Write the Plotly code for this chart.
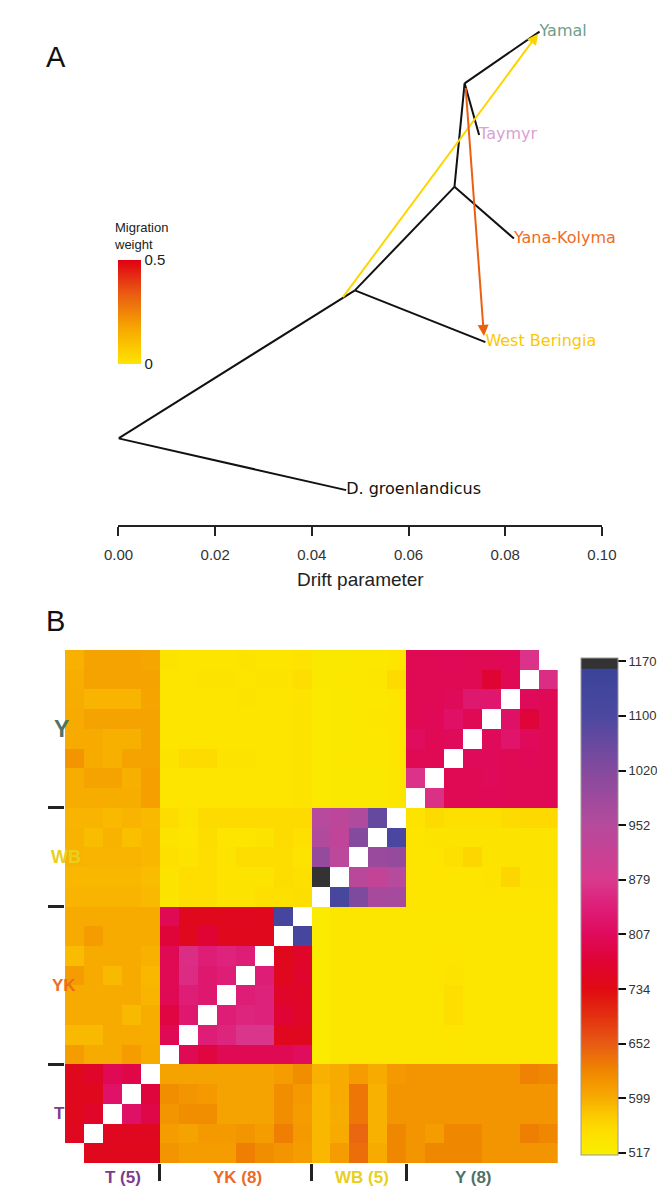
import numpy as np
import plotly.graph_objects as go
from plotly.colors import sample_colorscale

W, H = 665, 1193

# ---------------- Panel A data (TreeMix tree) ----------------
node_names = ["root", "n1", "n2", "n3", "Yamal", "Taymyr", "Yana-Kolyma",
              "West Beringia", "D. groenlandicus"]
node_drift = [0.0, 0.0489, 0.0695, 0.0716, 0.0871, 0.0746, 0.0818, 0.0759, 0.0471]
node_pos = [0.84, 2.27, 3.27, 4.27, 4.77, 3.77, 2.77, 1.77, 0.34]
edges = [("root", "n1"), ("root", "D. groenlandicus"), ("n1", "n2"),
         ("n1", "West Beringia"), ("n2", "n3"), ("n2", "Yana-Kolyma"),
         ("n3", "Yamal"), ("n3", "Taymyr")]
leaf_names = ["Yamal", "Taymyr", "Yana-Kolyma", "West Beringia", "D. groenlandicus"]
leaf_colors = ["#6E9E8C", "#D9A3CF", "#F26B1D", "#FBC800", "#111111"]

mig_from_drift = [0.0462, 0.0718]
mig_from_pos = [2.19, 4.24]
mig_to_drift = [0.0868, 0.0756]
mig_to_pos = [4.75, 1.83]
mig_weight = [0.04, 0.33]

drift_ticks = [0.00, 0.02, 0.04, 0.06, 0.08, 0.10]
drift_ticktext = ["0.00", "0.02", "0.04", "0.06", "0.08", "0.10"]

# ---------------- Panel B data (coancestry heatmap) ----------------
group_names = ["T", "YK", "WB", "Y"]
group_sizes = [5, 8, 5, 8]
group_colors = ["#7E3C8E", "#EE6A22", "#E8D01C", "#4E7268"]
cb_values = [517, 599, 652, 734, 807, 879, 952, 1020, 1100, 1170]

N = None
# rows listed top to bottom (Y block rows first), columns T | YK | WB | Y
rows_Y = [
    [595, 605, 605, 605, 603, 540, 535, 535, 535, 540, 535, 535, 540, 528, 528, 530, 530, 535, 800, 800, 802, 800, 800, 802, 870, N],
    [597, 605, 605, 605, 605, 535, 535, 538, 538, 535, 538, 540, 548, 528, 530, 530, 532, 555, 800, 800, 800, 800, 770, 800, N, 862],
    [598, 592, 592, 592, 604, 535, 535, 535, 535, 537, 535, 535, 540, 525, 528, 530, 530, 535, 800, 800, 805, 832, 830, N, 805, 800],
    [600, 605, 605, 605, 605, 535, 535, 535, 535, 535, 535, 535, 538, 525, 528, 530, 532, 533, 800, 802, 818, 800, N, 820, 775, 800],
    [600, 600, 596, 596, 605, 535, 535, 535, 535, 535, 535, 535, 538, 525, 528, 530, 530, 535, 810, 800, 805, N, 805, 825, 805, 800],
    [615, 600, 596, 605, 605, 540, 555, 555, 540, 538, 535, 535, 538, 527, 530, 530, 530, 535, 800, 800, N, 805, 805, 800, 802, 800],
    [598, 605, 605, 596, 608, 535, 535, 535, 535, 535, 535, 535, 538, 525, 528, 528, 528, 532, 870, N, 800, 800, 805, 800, 800, 800],
    [598, 598, 598, 598, 608, 535, 535, 535, 535, 535, 535, 535, 538, 525, 528, 528, 528, 532, N, 868, 800, 800, 802, 800, 800, 800],
]
rows_WB = [
    [592, 592, 588, 592, 588, 550, 540, 555, 555, 555, 555, 555, 555, 950, 940, 960, 1065, N, 540, 555, 545, 545, 545, 555, 557, 557],
    [594, 585, 594, 582, 590, 540, 535, 550, 535, 535, 540, 555, 545, 962, 930, 1020, N, 1110, 535, 538, 540, 540, 540, 540, 540, 540],
    [594, 592, 592, 592, 590, 545, 540, 548, 540, 552, 552, 552, 540, 995, 942, N, 990, 995, 535, 535, 545, 560, 540, 540, 540, 540],
    [590, 590, 590, 590, 585, 540, 548, 548, 540, 540, 540, 552, 545, 1170, N, 945, 925, 952, 535, 535, 535, 535, 540, 560, 540, 540],
    [592, 592, 592, 592, 588, 540, 548, 548, 540, 540, 545, 545, 548, N, 1118, 1030, 972, 975, 535, 535, 535, 535, 535, 535, 535, 535],
]
rows_YK = [
    [600, 600, 600, 600, 600, 800, 745, 745, 745, 748, 745, 1120, N, 522, 532, 532, 532, 532, 532, 532, 532, 532, 532, 532, 532, 532],
    [600, 610, 600, 600, 600, 775, 745, 770, 745, 745, 745, N, 1120, 522, 532, 532, 532, 532, 532, 532, 532, 532, 532, 532, 532, 532],
    [585, 600, 600, 600, 595, 800, 862, 842, 850, 842, N, 745, 760, 522, 532, 532, 532, 532, 532, 532, 535, 532, 532, 532, 532, 532],
    [610, 600, 588, 600, 590, 800, 860, 832, 842, N, 842, 748, 762, 522, 532, 532, 532, 532, 532, 532, 540, 532, 532, 532, 532, 532],
    [600, 600, 600, 600, 592, 800, 842, 832, N, 842, 848, 760, 758, 522, 532, 532, 532, 532, 532, 532, 548, 532, 532, 532, 532, 532],
    [600, 600, 600, 588, 598, 782, 832, N, 842, 852, 848, 770, 760, 522, 532, 532, 532, 532, 532, 532, 548, 532, 532, 532, 532, 532],
    [588, 588, 600, 600, 598, 800, N, 842, 852, 872, 872, 748, 750, 522, 532, 532, 532, 532, 532, 532, 535, 532, 532, 532, 532, 532],
    [610, 600, 600, 610, 600, N, 800, 782, 800, 800, 800, 800, 810, 522, 532, 532, 532, 532, 532, 532, 532, 532, 532, 532, 532, 532],
]
rows_T = [
    [745, 760, 800, 790, N, 605, 605, 605, 605, 605, 605, 610, 620, 595, 600, 610, 600, 612, 615, 615, 615, 615, 615, 615, 628, 625],
    [745, 745, 822, N, 780, 620, 615, 612, 605, 605, 605, 620, 612, 590, 600, 635, 595, 615, 615, 615, 615, 615, 615, 615, 615, 615],
    [745, 760, N, 820, 790, 615, 620, 620, 605, 605, 605, 620, 610, 590, 598, 635, 595, 615, 615, 615, 615, 615, 615, 615, 615, 615],
    [750, N, 750, 750, 750, 610, 605, 612, 612, 615, 610, 630, 612, 590, 600, 645, 595, 625, 615, 610, 625, 625, 615, 615, 630, 625],
    [N, 745, 745, 745, 745, 615, 610, 610, 610, 630, 620, 615, 610, 590, 610, 640, 600, 625, 615, 625, 625, 625, 615, 615, 615, 615],
]

# ---------------- helpers ----------------
def px(x):
    return x / W


def py(y):
    return 1 - y / H


FONT = "Liberation Sans, Arial, sans-serif"

fig = go.Figure()

# Tree edges
idx = {n: i for i, n in enumerate(node_names)}
ex, ey = [], []
for a, b in edges:
    ex += [node_drift[idx[a]], node_drift[idx[b]], None]
    ey += [node_pos[idx[a]], node_pos[idx[b]], None]
fig.add_trace(go.Scatter(x=ex, y=ey, mode="lines", line=dict(color="#111111", width=2),
                         hoverinfo="skip", showlegend=False, xaxis="x", yaxis="y"))

# Leaf labels
fig.add_trace(go.Scatter(
    x=[node_drift[idx[n]] for n in leaf_names],
    y=[node_pos[idx[n]] for n in leaf_names],
    mode="text", text=leaf_names, textposition="middle right",
    textfont=dict(family="DejaVu Sans, Verdana, sans-serif", size=16, color=leaf_colors),
    cliponaxis=False, hoverinfo="skip", showlegend=False, xaxis="x", yaxis="y"))

# Migration weight scale
mig_scale = [[0.0, "#FFE400"], [0.35, "#F6A600"], [0.68, "#EA5A12"], [1.0, "#E00012"]]
fig.add_trace(go.Scatter(
    x=[0.05, 0.05], y=[-50, -50], mode="markers",
    marker=dict(color=mig_weight, colorscale=mig_scale, cmin=0, cmax=0.5, size=1,
                showscale=True,
                colorbar=dict(x=px(100), xanchor="left", xpad=0, y=py(304), yanchor="middle",
                              ypad=0, len=104, lenmode="pixels", thickness=23,
                              thicknessmode="pixels", outlinewidth=0, ticks="",
                              tickvals=[0, 0.5], ticktext=["0", "0.5"],
                              tickfont=dict(family=FONT, size=15, color="#222"))),
    hoverinfo="skip", showlegend=False, xaxis="x", yaxis="y"))

annotations = []
mig_cols = sample_colorscale(mig_scale, [w / 0.5 for w in mig_weight])
for fx, fy, tx, ty, c in zip(mig_from_drift, mig_from_pos, mig_to_drift, mig_to_pos, mig_cols):
    annotations.append(dict(x=tx, y=ty, xref="x", yref="y", ax=fx, ay=fy, axref="x", ayref="y",
                            showarrow=True, arrowhead=2, arrowsize=1.1, arrowwidth=2,
                            arrowcolor=c, text="", standoff=0, startstandoff=0))

annotations.append(dict(x=px(93), y=py(228), xref="paper", yref="paper", xanchor="left",
                        yanchor="middle", align="left", showarrow=False,
                        text="Migration<br>weight",
                        font=dict(family=FONT, size=13, color="#222")))
annotations.append(dict(x=px(353), y=py(571), xref="paper", yref="paper", showarrow=False,
                        text="Drift parameter", font=dict(family=FONT, size=19, color="#222")))
annotations.append(dict(x=px(22), y=py(31), xref="paper", yref="paper", showarrow=False,
                        text="A", font=dict(family=FONT, size=29, color="#111")))
annotations.append(dict(x=px(22), y=py(613), xref="paper", yref="paper", showarrow=False,
                        text="B", font=dict(family=FONT, size=29, color="#111")))

# ---------------- Heatmap ----------------
rows = rows_Y + rows_WB + rows_YK + rows_T
z = np.array([[np.nan if v is None else v for v in r] for r in rows], dtype=float)
n = z.shape[0]
z_idx = np.where(np.isnan(z), np.nan, np.interp(np.nan_to_num(z, nan=517), cb_values, np.arange(len(cb_values))))
zmin, zmax = -0.04, 9.06
anchors = [(-0.04, "#F8EE00"), (0.0, "#F9ED00"), (0.25, "#FDE400"), (0.5, "#FDD800"),
           (0.75, "#FBC400"), (1.0, "#F7AC00"),
           (1.5, "#F08600"), (2.0, "#E85A14"), (2.5, "#E33010"), (3.0, "#E00A12"),
           (3.5, "#DF0434"), (4.0, "#E00A5C"), (4.5, "#DE1E78"), (5.0, "#D83A8E"),
           (6.0, "#B64A9C"), (7.0, "#844A9E"), (8.0, "#4C48A0"), (8.86, "#3A4399"),
           (8.87, "#333333"), (9.06, "#333333")]
hm_scale = [[(a - zmin) / (zmax - zmin), c] for a, c in anchors]

fig.add_trace(go.Heatmap(
    z=z_idx, x=list(range(n)), y=[n - 1 - i for i in range(n)],
    colorscale=hm_scale, zmin=zmin, zmax=zmax, hoverongaps=False,
    xaxis="x2", yaxis="y2",
    colorbar=dict(x=px(584), xanchor="left", xpad=0, y=py(898.5), yanchor="middle", ypad=0,
                  len=497, lenmode="pixels", thickness=37, thicknessmode="pixels",
                  outlinewidth=1, outlinecolor="#999",
                  ticks="outside", ticklen=8, tickwidth=2, tickcolor="#111",
                  tickvals=list(range(len(cb_values))), ticktext=[str(v) for v in cb_values],
                  tickfont=dict(family=FONT, size=13, color="#333"))))

bounds = list(np.cumsum(group_sizes)[:-1] - 0.5)
centers = []
s = 0
for g in group_sizes:
    centers.append(s + (g - 1) / 2)
    s += g

left_sizes = [17, 17, 18, 23]
left_x = [30, 28, 27, 30]
bottom_shift = [11, 2, 3, -8]
for name, c, col, fs, lx, bs, cnt in zip(group_names, centers, group_colors, left_sizes,
                                         left_x, bottom_shift, group_sizes):
    annotations.append(dict(x=px(lx), y=c, xref="paper", yref="y2", showarrow=False,
                            text=f"<b>{name}</b>", font=dict(family=FONT, size=fs, color=col)))
    annotations.append(dict(x=c, y=py(1181), xref="x2", yref="paper", showarrow=False,
                            xshift=bs, text=f"<b>{name} ({cnt})</b>",
                            font=dict(family=FONT, size=17, color=col)))

fig.update_layout(
    width=W, height=H, autosize=False,
    margin=dict(l=0, r=0, t=0, b=0),
    paper_bgcolor="white", plot_bgcolor="white",
    showlegend=False,
    xaxis=dict(domain=[px(100), px(606.25)], range=[0, 0.1], anchor="y",
               showline=True, linewidth=2, linecolor="#222", showgrid=False, zeroline=False,
               ticks="outside", ticklen=9, tickwidth=2, tickcolor="#222",
               tickvals=drift_ticks, ticktext=drift_ticktext, ticklabelstandoff=6,
               tickfont=dict(family=FONT, size=15, color="#333"), fixedrange=True),
    yaxis=dict(domain=[py(517.3), py(15)], range=[0, (517.3 - 15) / 103.5], anchor="x",
               visible=False, fixedrange=True),
    xaxis2=dict(domain=[px(44), px(560)], range=[-0.5, n - 0.5], anchor="y2",
                showgrid=False, zeroline=False, showline=False, showticklabels=False,
                ticks="outside", ticklen=17, tickwidth=3, tickcolor="#222", tickvals=bounds),
    yaxis2=dict(domain=[py(1155), py(642)], range=[-0.5, n - 0.5], anchor="x2",
                showgrid=False, zeroline=False, showline=False, showticklabels=False,
                ticks="outside", ticklen=16, tickwidth=3, tickcolor="#222", tickvals=bounds),
    annotations=annotations,
)

fig.write_html("out.html")
